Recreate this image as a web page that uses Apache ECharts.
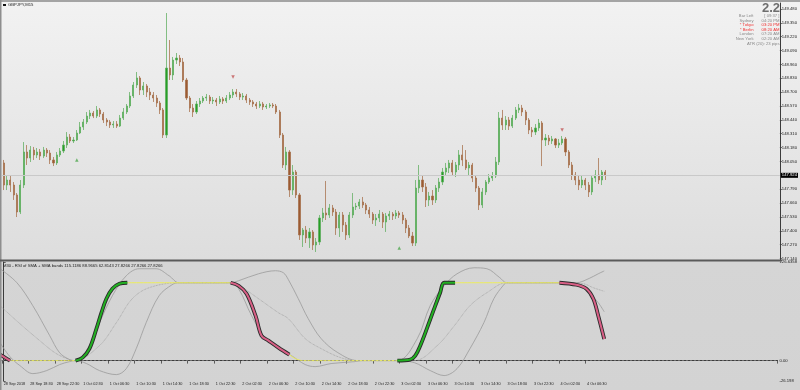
<!DOCTYPE html>
<html><head><meta charset="utf-8">
<script src="https://cdn.jsdelivr.net/npm/echarts@6/dist/echarts.min.js"></script>
<style>
html,body{margin:0;padding:0;width:800px;height:390px;overflow:hidden;}
#c{width:800px;height:390px;background:linear-gradient(to bottom,#f2f2f2 0px,#dddddd 260px,#d5d5d5 262px,#d3d3d3 390px);}
</style></head><body><div id="c"></div>
<script>
// ---- x axis tick labels (every 8 half-hour slots = 4 hours) ----
const tickLabels = ["28 Sep 2018","28 Sep 18:30","28 Sep 22:30","1 Oct 02:30","1 Oct 06:30","1 Oct 10:30","1 Oct 14:30","1 Oct 18:30","1 Oct 22:30","2 Oct 02:30","2 Oct 06:30","2 Oct 10:30","2 Oct 14:30","2 Oct 18:30","2 Oct 22:30","3 Oct 02:30","3 Oct 06:30","3 Oct 10:30","3 Oct 14:30","3 Oct 18:30","3 Oct 22:30","4 Oct 02:30","4 Oct 06:30"];
const slotCount = 234;
// ---- price candles: [open, close, low, high] ----
const ohlc = [
[148.036,147.829,147.782,148.064],[147.829,147.876,147.782,147.923],[147.876,147.829,147.764,147.914],[147.829,147.736,147.689,147.857],
[147.736,147.576,147.529,147.754],[147.576,147.829,147.557,147.876],[147.829,148.139,147.801,148.232],[148.139,148.082,148.017,148.204],
[148.082,148.157,148.045,148.195],[148.157,148.111,148.064,148.186],[148.111,148.139,148.082,148.176],[148.139,148.101,148.064,148.167],
[148.101,148.157,148.082,148.186],[148.157,148.129,148.092,148.176],[148.129,148.064,148.026,148.157],[148.064,148.036,148.007,148.092],
[148.036,148.111,148.017,148.139],[148.111,148.148,148.092,148.176],[148.148,148.204,148.129,148.242],[148.204,148.279,148.176,148.326],
[148.279,148.242,148.223,148.307],[148.242,148.251,148.223,148.279],[148.251,148.317,148.242,148.345],[148.317,148.373,148.307,148.420],
[148.373,148.420,148.345,148.448],[148.420,148.476,148.401,148.514],[148.476,148.504,148.448,148.533],[148.504,148.476,148.457,148.523],
[148.476,148.533,148.457,148.570],[148.533,148.495,148.467,148.551],[148.495,148.439,148.411,148.514],[148.439,148.420,148.382,148.457],
[148.420,148.392,148.364,148.439],[148.392,148.401,148.364,148.429],[148.401,148.382,148.364,148.429],[148.382,148.457,148.373,148.486],
[148.457,148.514,148.439,148.551],[148.514,148.570,148.495,148.589],[148.570,148.664,148.551,148.701],[148.664,148.767,148.645,148.795],
[148.767,148.833,148.739,148.889],[148.833,148.720,148.673,148.851],[148.720,148.758,148.673,148.795],[148.758,148.701,148.654,148.776],
[148.701,148.673,148.626,148.739],[148.673,148.645,148.608,148.701],[148.645,148.598,148.561,148.673],[148.598,148.533,148.495,148.617],
[148.533,148.298,148.270,148.551],[148.298,148.926,148.270,149.442],[148.926,148.861,148.814,149.189],[148.861,149.001,148.814,149.030],
[149.001,149.020,148.964,149.067],[149.020,148.983,148.945,149.048],[148.983,148.814,148.795,149.020],[148.814,148.645,148.626,148.833],
[148.645,148.551,148.514,148.664],[148.551,148.514,148.467,148.589],[148.514,148.589,148.495,148.617],[148.589,148.617,148.561,148.645],
[148.617,148.645,148.598,148.664],[148.645,148.654,148.617,148.683],[148.654,148.617,148.589,148.673],[148.617,148.626,148.589,148.654],
[148.626,148.608,148.570,148.645],[148.608,148.636,148.589,148.664],[148.636,148.617,148.589,148.654],[148.617,148.645,148.598,148.673],
[148.645,148.673,148.626,148.701],[148.673,148.701,148.645,148.729],[148.701,148.683,148.654,148.729],[148.683,148.654,148.626,148.701],
[148.654,148.664,148.626,148.692],[148.664,148.626,148.598,148.683],[148.626,148.608,148.580,148.645],[148.608,148.589,148.561,148.626],
[148.589,148.570,148.542,148.608],[148.570,148.589,148.551,148.617],[148.589,148.561,148.533,148.608],[148.561,148.570,148.542,148.589],
[148.570,148.580,148.551,148.598],[148.580,148.570,148.551,148.598],[148.570,148.514,148.495,148.589],[148.514,148.298,148.270,148.533],
[148.298,148.017,147.989,148.317],[148.017,148.139,147.970,148.186],[148.139,147.782,147.717,148.157],[147.782,147.951,147.736,148.017],
[147.951,147.736,147.707,147.970],[147.736,147.361,147.314,147.754],[147.361,147.407,147.248,147.426],[147.407,147.332,147.285,147.445],
[147.332,147.389,147.239,147.426],[147.389,147.267,147.220,147.407],[147.267,147.295,147.201,147.332],[147.295,147.520,147.267,147.548],
[147.520,147.567,147.482,147.614],[147.567,147.548,147.501,147.867],[147.548,147.614,147.520,147.651],[147.614,147.576,147.539,147.642],
[147.576,147.426,147.361,147.604],[147.426,147.548,147.342,147.576],[147.548,147.454,147.389,147.576],[147.454,147.361,147.314,147.482],
[147.361,147.548,147.332,147.576],[147.548,147.623,147.520,147.754],[147.623,147.632,147.595,147.661],[147.632,147.670,147.604,147.698],
[147.670,147.642,147.614,147.717],[147.642,147.595,147.557,147.661],[147.595,147.557,147.520,147.623],[147.557,147.501,147.464,147.576],
[147.501,147.520,147.445,147.557],[147.520,147.557,147.482,147.595],[147.557,147.482,147.426,147.576],[147.482,147.539,147.389,147.567],
[147.539,147.557,147.501,147.586],[147.557,147.539,147.501,147.576],[147.539,147.567,147.511,147.595],[147.567,147.548,147.520,147.586],
[147.548,147.501,147.464,147.576],[147.501,147.426,147.379,147.520],[147.426,147.351,147.332,147.454],[147.351,147.285,147.257,147.389],
[147.285,147.801,147.257,147.876],[147.801,147.876,147.754,148.017],[147.876,147.811,147.764,147.914],[147.811,147.689,147.623,147.848],
[147.689,147.726,147.632,147.764],[147.726,147.689,147.642,147.782],[147.689,147.801,147.661,147.829],[147.801,147.857,147.764,147.895],
[147.857,147.951,147.829,147.989],[147.951,147.989,147.914,148.036],[147.989,148.036,147.942,148.064],[148.036,147.951,147.914,148.064],
[147.951,148.017,147.904,148.045],[148.017,148.111,147.970,148.157],[148.111,148.064,148.007,148.204],[148.064,147.989,147.970,148.157],
[147.989,148.017,147.923,148.045],[148.017,147.895,147.857,148.036],[147.895,147.801,147.764,147.914],[147.801,147.642,147.595,147.820],
[147.642,147.764,147.614,147.801],[147.764,147.857,147.736,147.876],[147.857,147.895,147.839,147.932],[147.895,147.914,147.867,147.951],
[147.914,148.045,147.895,148.092],[148.045,148.457,148.017,148.514],[148.457,148.392,148.345,148.533],[148.392,148.439,148.345,148.476],
[148.439,148.382,148.345,148.467],[148.382,148.457,148.364,148.486],[148.457,148.533,148.439,148.561],[148.533,148.551,148.504,148.589],
[148.551,148.514,148.476,148.580],[148.514,148.439,148.392,148.533],[148.439,148.345,148.307,148.457],[148.345,148.326,148.279,148.373],
[148.326,148.364,148.298,148.401],[148.364,148.411,148.336,148.448],[148.411,148.251,148.007,148.429],[148.251,148.270,148.195,148.307],
[148.270,148.242,148.204,148.298],[148.242,148.261,148.214,148.289],[148.261,148.204,148.176,148.270],[148.204,148.223,148.176,148.261],
[148.223,148.261,148.204,148.289],[148.261,148.139,148.101,148.279],[148.139,148.017,147.989,148.157],[148.017,147.923,147.876,148.045],
[147.923,147.876,147.829,147.951],[147.876,147.829,147.782,147.914],[147.829,147.876,147.801,147.914],[147.876,147.829,147.782,147.895],
[147.829,147.764,147.717,147.857],[147.764,147.895,147.736,147.923],[147.895,147.923,147.857,147.970],[147.923,147.876,147.839,148.082],
[147.876,147.951,147.829,147.970],[147.951,147.924,147.876,147.970]
];
const lastPrice = 147.924;
const signalUp = [[22,148.064],[119,147.239]];
const signalDown = [[69,148.842],[168,148.345]];
const priceTicks = [147.14,147.27,147.40,147.53,147.66,147.79,148.05,148.18,148.31,148.44,148.57,148.70,148.83,148.96,149.09,149.22,149.35,149.48];
const priceMin = 147.126, priceMax = 149.536;
// ---- indicator: RSI of SMA + SMA bands, [slot, value] ----
const subTicks = [-26.198, 0, 126.6358];
const subTickLabels = ["-26.198","0.00","126.6358"];
const rsiDownA = [[-1.1,7.7],[0.4,3.8],[1.9,0]];
const rsiFlatLowA = [[1.9,0],[21.7,0]];
const rsiUpB = [[21.7,0],[23.8,3.8],[25.9,15.4],[28,41],[29.5,61.5],[31,79.5],[32.8,92.3],[34.9,98.7],[37.3,100]];
const rsiFlatHighC = [[37.3,100],[68.5,100]];
const rsiDownD = [[68.5,100],[70.9,96.2],[73.3,85.9],[76,57.7],[77.8,32],[79.9,25.6],[82.9,16.7],[86.2,7.7]];
const rsiFlatLowE = [[86.2,7.7],[88,2.6],[90.4,0],[118.8,0]];
const rsiUpF = [[118.8,0],[122.7,1.3],[124.2,6.4],[125.7,19.2],[127.8,42.3],[129.9,66.7],[131.7,87.2],[132.9,100],[136.2,100]];
const rsiFlatHighG = [[136.2,100],[167.7,100]];
const rsiDownH = [[167.7,100],[172.8,97.4],[175.8,92.3],[177.9,79.5],[179.4,57.7],[181.2,27.8]];
const bandUpper = [[-1.1,118],[4,100],[8.8,70.5],[13.9,32],[16.9,10],[19.9,1.3],[21.4,0],[25,12.8],[28.9,48.7],[32.8,83.3],[37,109],[40.9,118],[46,118],[49.9,109],[52.9,100],[68.5,100],[70.9,102.6],[76.9,111.5],[82,115.4],[84.4,112.8],[85.9,104],[88.9,79.5],[91.9,53.8],[95.8,28.2],[100.8,10.3],[106.8,0],[118.8,0],[124.8,28.2],[128.7,70.5],[132.9,96.2],[136.8,111.5],[141.9,119.2],[145.8,118],[149.7,106.5],[151.8,100],[167.7,100],[172.8,100],[176.7,105.6],[179.4,111.5],[181.2,115.1]];
const bandMid = [[-1.1,70.5],[4.9,47.4],[10.9,25.6],[15.4,10.3],[19,2.6],[21.4,0],[28.9,19.2],[34,48.7],[38.8,79.5],[43.9,93.6],[52.9,100],[68.5,100],[70.9,97],[76.9,79.5],[82.9,61.5],[85.9,53.8],[91,28.2],[95.8,15.4],[101.7,3.8],[106.8,0],[123.9,0],[130.8,19.2],[136,44.9],[140.7,70.5],[145.8,87.2],[151.8,100],[167.7,100],[174.9,98.7],[177.9,93.6],[181.2,89]];
const bandLower = [[-1.1,23],[1.9,5],[4.9,-6.4],[8.8,-16.7],[13,-12.8],[16.9,-5.1],[19.9,-1.3],[21.7,0],[25,-3.8],[28.9,-12.8],[34,-18],[37,-10.3],[40,15.4],[43,48.7],[46.9,83.3],[50.8,97.4],[52.9,100],[68.5,100],[70.9,92.3],[74.8,57.7],[79,28.2],[82.9,15.4],[86.8,6.4],[91,-5.1],[94,-7.7],[98.8,-3.8],[106,-1.3],[107.8,0],[118.8,0],[123.9,-2.6],[128.7,-12.8],[132.9,-19.2],[136.8,-10.3],[140.7,15.4],[144.9,48.7],[147.9,79.5],[150.9,97.4],[151.8,100],[167.7,100],[173.7,98.7],[176.7,87.2],[179.4,74.4],[181.2,62.8]];
// ---- texts ----
const symbolTitle = "GBPJPY,M15";
const indicatorTitle = "M30 - RSI of SMA + SMA bands 115.1186 88.9665 62.8143 27.8266 27.8266 27.8266";
const spreadText = "2.2";
const infoRows = [["Bar Left","[ 09:37 ]",false],["Sydney","04:20 PM",false],["* Tokyo","03:20 PM",true],["* Berlin","08:20 AM",true],["London","07:20 AM",false],["New York","02:20 AM",false]];
const atrText = "ATR (20): 23 pips";

const slots = Array.from({length: slotCount}, (_, i) => String(i));
const FONT = '"Liberation Sans", Arial, sans-serif';
const chart = echarts.init(document.getElementById('c'), null, {renderer: 'canvas'});

function lineSeries(data, color, width, type, z) {
  return {type: 'line', xAxisIndex: 2, yAxisIndex: 1, data: data, smooth: 0.35, showSymbol: false, symbol: 'none',
    lineStyle: {color: color, width: width, type: type || 'solid'}, z: z || 2, silent: true};
}
const series = [];
series.push({type: 'candlestick', xAxisIndex: 0, yAxisIndex: 0, data: ohlc, barWidth: 1.6, z: 3,
  itemStyle: {color: '#279f27', color0: '#9c5a32', borderColor: '#5fae5f', borderColor0: '#a56f4a', borderWidth: 0.75},
  markLine: {silent: true, symbol: 'none', animation: false, data: [{yAxis: lastPrice}],
    lineStyle: {color: '#c9c9c9', type: 'solid', width: 1},
    label: {show: true, position: 'end', distance: 1, formatter: () => lastPrice.toFixed(3), backgroundColor: '#000', color: '#fff',
      fontSize: 4.2, fontFamily: FONT, padding: [1, 1, 0, 1]}}});
series.push({type: 'scatter', xAxisIndex: 0, yAxisIndex: 0, data: signalUp, symbol: 'triangle', symbolSize: 3.5, itemStyle: {color: '#4fa84f'}, z: 4});
series.push({type: 'scatter', xAxisIndex: 0, yAxisIndex: 0, data: signalDown, symbol: 'triangle', symbolRotate: 180, symbolSize: 3.5, itemStyle: {color: '#c35a5a'}, z: 4});
// bands
const zeroLine = lineSeries(bandMid, '#9c9c9c', 0.8, 'dotted', 2);
zeroLine.markLine = {silent: true, symbol: 'none', animation: false, data: [{yAxis: 0}], label: {show: false}, lineStyle: {color: '#8c8c8c', type: [2, 2], width: 0.6}};
series.push(zeroLine);
series.push(lineSeries(bandUpper, '#9a9a9a', 0.8, 'solid', 2));
series.push(lineSeries(bandLower, '#9a9a9a', 0.8, 'solid', 2));
// RSI colored parts
[rsiFlatLowA, rsiFlatHighC, rsiFlatLowE, rsiFlatHighG].forEach(d => series.push(lineSeries(d, '#eded5c', 1, 'solid', 4)));
[rsiUpB, rsiUpF].forEach(d => { series.push(lineSeries(d, '#2b2b2b', 3.8, 'solid', 5)); series.push(lineSeries(d, '#22b022', 2, 'solid', 6)); });
[rsiDownA, rsiDownD, rsiDownH].forEach(d => { series.push(lineSeries(d, '#2b2b2b', 3.8, 'solid', 5)); series.push(lineSeries(d, '#d95f86', 2, 'solid', 6)); });

const graphics = [
  {type: 'rect', shape: {x: 0, y: 0, width: 800, height: 2}, style: {fill: '#a4a4a4'}, z: 100},
  {type: 'rect', shape: {x: 0, y: 0, width: 1.5, height: 390}, style: {fill: '#8e8e8e'}, z: 100},
  {type: 'rect', shape: {x: 0, y: 259.5, width: 782, height: 2}, style: {fill: '#5a5a5a'}, z: 100},
  {type: 'rect', shape: {x: 3, y: 4, width: 3, height: 2}, style: {fill: '#111'}, z: 100},
  {type: 'text', x: 8, y: 5, style: {text: symbolTitle, fill: '#222', font: '4.2px ' + FONT, verticalAlign: 'middle'}, z: 100},
  {type: 'text', x: 3, y: 265.5, style: {text: indicatorTitle, fill: '#222', font: '4.2px ' + FONT, verticalAlign: 'middle'}, z: 100},
  {type: 'text', x: 780, y: 8.5, style: {text: spreadText, fill: '#6e6e6e', font: 'bold 13px ' + FONT, align: 'right', verticalAlign: 'middle'}, z: 100}
];
infoRows.forEach((r, k) => {
  const y = 15.7 + k * 4.66;
  const col = r[2] ? '#f03030' : '#8a8a8a';
  graphics.push({type: 'text', x: 753.5, y: y, style: {text: r[0], fill: col, font: '4.2px ' + FONT, align: 'right', verticalAlign: 'middle'}, z: 100});
  graphics.push({type: 'text', x: 779.5, y: y, style: {text: r[1], fill: col, font: '4.2px ' + FONT, align: 'right', verticalAlign: 'middle'}, z: 100});
});
graphics.push({type: 'text', x: 779.5, y: 43.7, style: {text: atrText, fill: '#8a8a8a', font: '4.2px ' + FONT, align: 'right', verticalAlign: 'middle'}, z: 100});

const showTick = (idx) => idx % 8 === 0 && idx / 8 < tickLabels.length;

chart.setOption({
  animation: false,
  backgroundColor: 'transparent',
  grid: [
    {left: 2, right: 18, top: 3, height: 257},
    {left: 2, right: 18, top: 262, height: 119}
  ],
  xAxis: [
    {type: 'category', gridIndex: 0, data: slots, boundaryGap: true, axisLine: {show: false}, axisTick: {show: false}, axisLabel: {show: false}, splitLine: {show: false}},
    {type: 'category', gridIndex: 1, data: slots, boundaryGap: true,
      axisLine: {show: true, lineStyle: {color: '#3c3c3c', width: 1}},
      axisTick: {show: true, interval: showTick, length: 3, lineStyle: {color: '#3c3c3c', width: 0.8}},
      axisLabel: {show: true, interval: showTick, align: 'left', margin: 1.2, fontSize: 3.8, fontFamily: FONT, color: '#222',
        formatter: (v) => tickLabels[Number(v) / 8] || ''},
      splitLine: {show: false}},
    {type: 'value', gridIndex: 1, min: -0.5, max: slotCount - 0.5, show: false}
  ],
  yAxis: [
    {type: 'value', gridIndex: 0, position: 'right', min: priceMin, max: priceMax, scale: true,
      axisLine: {show: true, lineStyle: {color: '#3c3c3c', width: 1}},
      axisTick: {show: true, length: 2, customValues: priceTicks, lineStyle: {color: '#3c3c3c', width: 0.8}},
      axisLabel: {show: true, customValues: priceTicks, margin: 2, fontSize: 4.2, fontFamily: FONT, color: '#222', formatter: (v) => v.toFixed(3)},
      splitLine: {show: false}},
    {type: 'value', gridIndex: 1, position: 'right', min: subTicks[0], max: subTicks[2],
      axisLine: {show: true, lineStyle: {color: '#3c3c3c', width: 1}},
      axisTick: {show: true, length: 2, customValues: subTicks, lineStyle: {color: '#3c3c3c', width: 0.8}},
      axisLabel: {show: true, customValues: subTicks, showMinLabel: true, showMaxLabel: true, margin: 2, fontSize: 4.2, fontFamily: FONT, color: '#222',
        formatter: (v) => subTickLabels[subTicks.indexOf(v)] !== undefined ? subTickLabels[subTicks.indexOf(v)] : ''},
      splitLine: {show: false}}
  ],
  graphic: graphics,
  series: series
});
</script></body></html>
